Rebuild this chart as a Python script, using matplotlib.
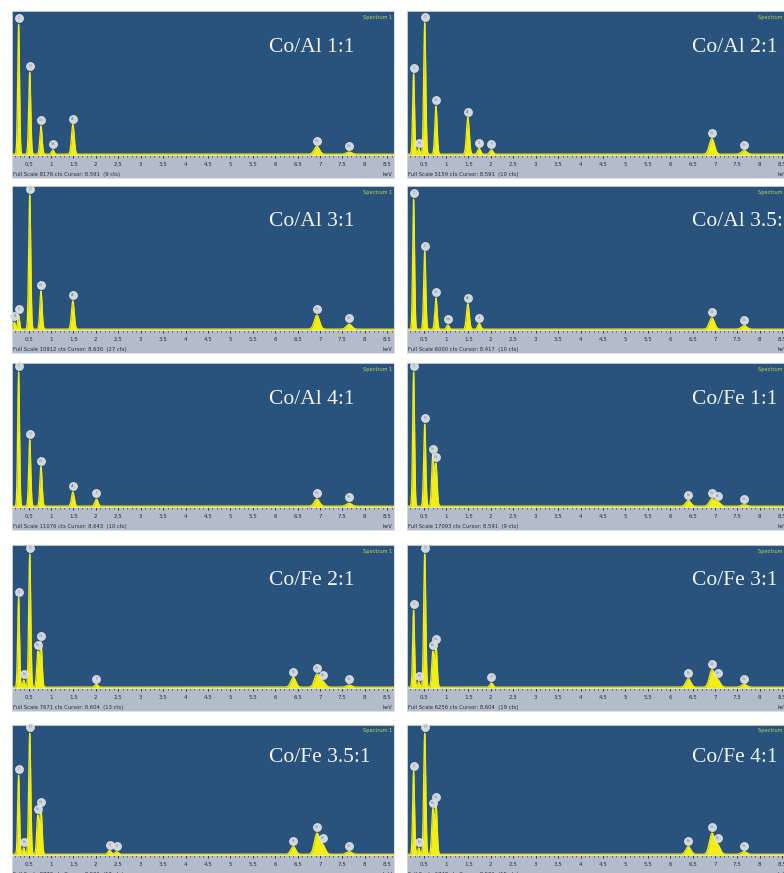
import numpy as np
import matplotlib.pyplot as plt
from matplotlib.transforms import blended_transform_factory, ScaledTranslation

# X-ray line energies in keV and the symbol printed in the marker
line_energy = {
    'B': 0.183, 'C': 0.277, 'N': 0.392, 'O': 0.525, 'FeL': 0.705, 'CoL': 0.776,
    'Na': 1.041, 'Al': 1.487, 'Si': 1.740, 'P': 2.013, 'S': 2.307,
    'SKb': 2.464, 'FeKa': 6.404, 'CoKa': 6.930, 'FeKb': 7.058, 'CoKb': 7.649,
}
line_symbol = {
    'B': 'B', 'C': 'C', 'N': 'N', 'O': 'O', 'FeL': 'Fe', 'CoL': 'Co', 'Na': 'Na',
    'Al': 'Al', 'Si': 'Si', 'P': 'P', 'S': 'S', 'SKb': 'S', 'FeKa': 'Fe',
    'CoKa': 'Co', 'FeKb': 'Fe', 'CoKb': 'Co',
}

titles = ['Co/Al 1:1', 'Co/Al 2:1', 'Co/Al 3:1', 'Co/Al 3.5:1', 'Co/Al 4:1',
          'Co/Fe 1:1', 'Co/Fe 2:1', 'Co/Fe 3:1', 'Co/Fe 3.5:1', 'Co/Fe 4:1']
full_scale = [8176, 5159, 10912, 6000, 11076, 17093, 7671, 6256, 8770, 6748]
cursor_kev = [8.591, 8.591, 8.630, 8.417, 8.643, 8.591, 8.604, 8.604, 8.591, 8.591]
cursor_cts = [9, 10, 27, 10, 10, 9, 13, 19, 12, 15]

# peaks per panel (line, relative height of the blue area)
lines_coal_11 = ['C', 'O', 'CoL', 'Na', 'Al', 'CoKa', 'CoKb']
heights_coal_11 = [0.92, 0.58, 0.20, 0.03, 0.21, 0.055, 0.015]

lines_coal_21 = ['C', 'N', 'O', 'CoL', 'Al', 'Si', 'P', 'CoKa', 'CoKb']
heights_coal_21 = [0.57, 0.04, 0.93, 0.34, 0.26, 0.04, 0.03, 0.11, 0.025]

lines_coal_31 = ['B', 'C', 'O', 'CoL', 'Al', 'CoKa', 'CoKb']
heights_coal_31 = [0.05, 0.10, 0.95, 0.27, 0.20, 0.10, 0.035]

lines_coal_351 = ['C', 'O', 'CoL', 'Na', 'Al', 'Si', 'CoKa', 'CoKb']
heights_coal_351 = [0.92, 0.55, 0.22, 0.03, 0.18, 0.04, 0.08, 0.025]

lines_coal_41 = ['C', 'O', 'CoL', 'Al', 'P', 'CoKa', 'CoKb']
heights_coal_41 = [0.95, 0.47, 0.28, 0.10, 0.05, 0.05, 0.02]

lines_cofe_11 = ['C', 'O', 'FeL', 'CoL', 'FeKa', 'CoKa', 'FeKb', 'CoKb']
heights_cofe_11 = [0.95, 0.58, 0.36, 0.30, 0.04, 0.05, 0.03, 0.01]

lines_cofe_21 = ['C', 'N', 'O', 'FeL', 'CoL', 'P', 'FeKa', 'CoKa', 'FeKb', 'CoKb']
heights_cofe_21 = [0.64, 0.05, 0.95, 0.25, 0.32, 0.02, 0.07, 0.09, 0.04, 0.015]

lines_cofe_31 = ['C', 'N', 'O', 'FeL', 'CoL', 'P', 'FeKa', 'CoKa', 'FeKb', 'CoKb']
heights_cofe_31 = [0.55, 0.04, 0.95, 0.25, 0.30, 0.03, 0.06, 0.12, 0.05, 0.02]

lines_cofe_351 = ['C', 'N', 'O', 'FeL', 'CoL', 'S', 'SKb', 'FeKa', 'CoKa', 'FeKb', 'CoKb']
heights_cofe_351 = [0.62, 0.05, 0.95, 0.30, 0.36, 0.03, 0.02, 0.06, 0.16, 0.07, 0.02]

lines_cofe_41 = ['C', 'N', 'O', 'FeL', 'CoL', 'FeKa', 'CoKa', 'FeKb', 'CoKb']
heights_cofe_41 = [0.65, 0.05, 0.95, 0.35, 0.40, 0.06, 0.16, 0.07, 0.02]

panel_lines = [lines_coal_11, lines_coal_21, lines_coal_31, lines_coal_351, lines_coal_41,
               lines_cofe_11, lines_cofe_21, lines_cofe_31, lines_cofe_351, lines_cofe_41]
panel_heights = [heights_coal_11, heights_coal_21, heights_coal_31, heights_coal_351,
                 heights_coal_41, heights_cofe_11, heights_cofe_21, heights_cofe_31,
                 heights_cofe_351, heights_cofe_41]

tick_values = [0.5, 1, 1.5, 2, 2.5, 3, 3.5, 4, 4.5, 5, 5.5, 6, 6.5, 7, 7.5, 8, 8.5]

BLUE = '#29537c'
YELLOW = '#f2ee14'
STRIP = '#b2bccb'

W, H = 784, 873
fig = plt.figure(figsize=(W / 100, H / 100), dpi=100)
fig.patch.set_facecolor('white')

col_x = [12, 407]
col_w = 382
row_top = [11, 186, 363, 545, 725]
row_h = [144, 144, 144, 143, 130]
strip_h = 23
title_x = [0.673, 0.746]

energy = np.linspace(0.05, 8.8, 4000)


def fwhm(e):
    # detector resolution: electronic noise plus Fano statistics
    return np.sqrt(0.042 ** 2 + 0.0023 * e)


def spectrum(lines, heights, e):
    s = np.full_like(e, 0.006)
    for ln, h in zip(lines, heights):
        e0 = line_energy[ln]
        sig = fwhm(e0) / 2.355
        s = s + h * np.exp(-0.5 * ((e - e0) / sig) ** 2)
    return s


for i in range(10):
    col = i % 2
    row = i // 2
    x0 = col_x[col]
    top = row_top[row]
    h = row_h[row]

    ax = fig.add_axes([x0 / W, 1 - (top + h) / H, col_w / W, h / H])
    sa = fig.add_axes([x0 / W, 1 - (top + h + strip_h) / H, col_w / W, strip_h / H])

    ax.set_facecolor(BLUE)
    ax.set_xlim(0.13, 8.65)
    ax.set_ylim(0, 1.02)
    ax.set_xticks([])
    ax.set_yticks([])
    for sp in ax.spines.values():
        sp.set_color('#d6dce4')
        sp.set_linewidth(0.6)

    lines = panel_lines[i]
    heights = panel_heights[i]
    s = spectrum(lines, heights, energy)
    ax.fill_between(energy, 0, s, color=YELLOW, lw=0)
    ax.plot(energy, s, color=YELLOW, lw=0.9)

    # element markers above each line
    off = ax.transData + ScaledTranslation(0, 4.2 / 72, fig.dpi_scale_trans)
    for ln in lines:
        e0 = line_energy[ln]
        y0 = spectrum(lines, heights, np.array([e0]))[0]
        ax.scatter([e0], [y0], s=34, color='#d2d7dd', edgecolors='#eef0f2',
                   linewidths=0.4, transform=off, zorder=5, clip_on=False)
        ax.text(e0, y0, line_symbol[ln], transform=off, fontsize=2.4,
                color='#7a8088', ha='center', va='center', zorder=6)

    ax.text(title_x[col], 0.75, titles[i], transform=ax.transAxes,
            fontsize=15.5, family='Liberation Serif', color='#f0f2f4',
            ha='left', va='center')
    ax.text(0.995, 0.975, 'Spectrum 1', transform=ax.transAxes, fontsize=3.6,
            color='#c4d64a', ha='right', va='top')

    # axis strip
    sa.set_facecolor(STRIP)
    sa.set_xlim(0.13, 8.65)
    sa.set_ylim(0, 1)
    sa.set_yticks([])
    sa.xaxis.set_ticks_position('top')
    sa.set_xticks(tick_values)
    sa.set_xticks(np.arange(0.2, 8.65, 0.1), minor=True)
    sa.tick_params(axis='x', which='major', direction='in', length=2.2,
                   width=0.6, color='#202020', labeltop=False, labelbottom=False)
    sa.tick_params(axis='x', which='minor', direction='in', length=1.2,
                   width=0.5, color='#303030')
    for sp in sa.spines.values():
        sp.set_color('#d6dce4')
        sp.set_linewidth(0.6)
    sa.spines['top'].set_color('#e8e8a0')
    sa.spines['top'].set_linewidth(0.8)

    tr = blended_transform_factory(sa.transData, sa.transAxes)
    for t in tick_values:
        sa.text(t, 0.6, ('%g' % t), transform=tr, fontsize=4, color='#2a2e36',
                ha='center', va='center')
    sa.text(0.003, 0.17, 'Full Scale %d cts Cursor: %.3f  (%d cts)'
            % (full_scale[i], cursor_kev[i], cursor_cts[i]),
            transform=sa.transAxes, fontsize=3.8, color='#2a2e36',
            ha='left', va='center')
    sa.text(0.995, 0.17, 'keV', transform=sa.transAxes, fontsize=3.8,
            color='#2a2e36', ha='right', va='center')

fig.savefig('out.png', dpi=100, facecolor='white')
